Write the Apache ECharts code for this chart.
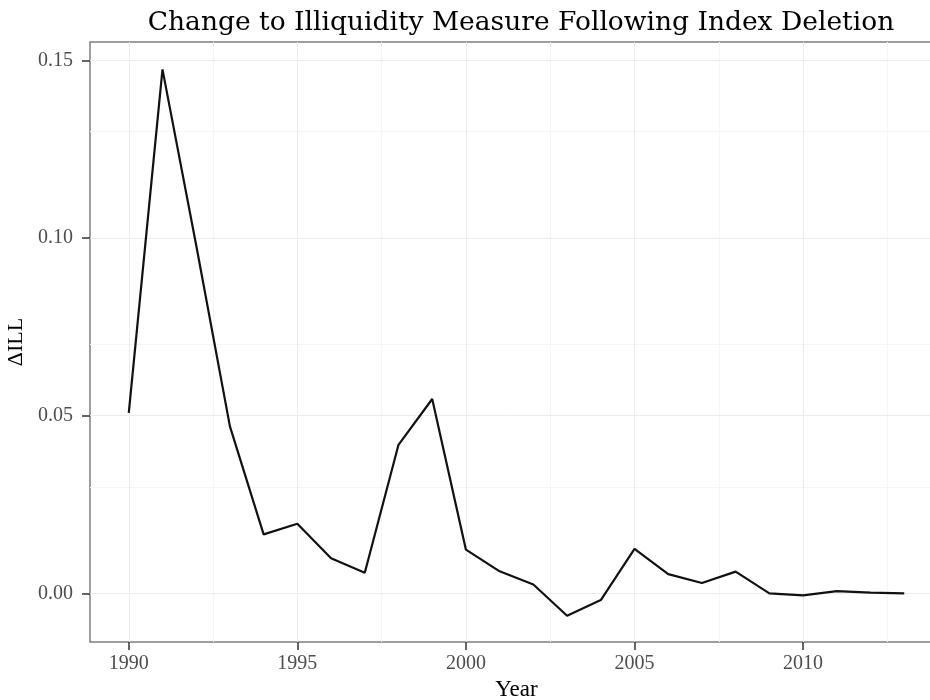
<!DOCTYPE html>
<html>
<head>
<meta charset="utf-8">
<script src="https://cdn.jsdelivr.net/npm/echarts@6/dist/echarts.min.js"></script>
<style>html,body{margin:0;padding:0;background:#fff}#c{width:930px;height:700px}</style>
</head>
<body>
<div id="c"></div>
<script>
const years = [1990,1991,1992,1993,1994,1995,1996,1997,1998,1999,2000,2001,2002,2003,2004,2005,2006,2007,2008,2009,2010,2011,2012,2013];
const dIll = [0.0508,0.1475,0.098,0.047,0.0166,0.0196,0.0099,0.0058,0.0418,0.0547,0.0123,0.0062,0.0025,-0.0063,-0.0019,0.0125,0.0054,0.0029,0.0061,0.0000,-0.0006,0.0006,0.0002,0.0000];
const xTicks = [1990,1995,2000,2005,2010];
const xMinor = [1992.5,1997.5,2002.5,2007.5,2012.5];
const yTicks = [0,0.05,0.10,0.15];
const yMinor = [0.025,0.075,0.125];
const yLabels = ['0.00','0.05','0.10','0.15'];

const FONT = 'Liberation Serif';
const TFONT = 'DejaVu Serif';
const chart = echarts.init(document.getElementById('c'), null, {renderer:'canvas'});
function vLines(vals, color){ return vals.map(v => ({xAxis: v, lineStyle:{color:color, width:1, type:'solid'}})); }
function hLines(vals, color){ return vals.map(v => ({yAxis: v, lineStyle:{color:color, width:1, type:'solid'}})); }
chart.setOption({
  animation:false,
  backgroundColor:'#ffffff',
  title:{text:'Change to Illiquidity Measure Following Index Deletion', left:516, textAlign:'center', top:5,
    textStyle:{fontFamily:TFONT, fontSize:26.5, fontWeight:'normal', color:'#000'}},
  grid:{left:90, top:42, width:853, bottom:58, outerBoundsMode:'none', containLabel:false, show:true, borderColor:'#7f7f7f', borderWidth:1.5, backgroundColor:'transparent'},
  xAxis:{type:'value', min:1988.85, max:2014.15, name:'Year', nameLocation:'middle', nameGap:35,
    nameTextStyle:{fontFamily:FONT, fontSize:23, color:'#000'},
    axisLine:{show:false, onZero:false}, splitLine:{show:false},
    axisTick:{show:true, customValues:xTicks, length:8, lineStyle:{color:'#333', width:1.5}},
    axisLabel:{customValues:xTicks, fontFamily:FONT, fontSize:20, color:'#4d4d4d', margin:12, formatter:v=>String(v)}},
  yAxis:{type:'value', min:-0.0137, max:0.1552, name:'ΔILL', nameLocation:'middle', nameGap:54,
    nameTextStyle:{fontFamily:FONT, fontSize:22, color:'#000'},
    axisLine:{show:false, onZero:false}, splitLine:{show:false},
    axisTick:{show:true, customValues:yTicks, length:8, lineStyle:{color:'#333', width:1.5}},
    axisLabel:{customValues:yTicks, fontFamily:FONT, fontSize:20, color:'#4d4d4d', margin:17, formatter:v=>{const i=yTicks.findIndex(t=>Math.abs(t-v)<1e-9);return i>=0?yLabels[i]:v.toFixed(2);}}},
  series:[
    {type:'line', data:[], z:1, silent:true,
     markLine:{silent:true, symbol:['none','none'], z:1, label:{show:false}, animation:false,
       data:[].concat(vLines(xMinor,'#f5f5f5'), hLines(yMinor,'#f5f5f5'), vLines(xTicks,'#ebebeb'), hLines(yTicks,'#ebebeb'))}},
    {type:'line', z:3, data:years.map((y,i)=>[y,dIll[i]]), showSymbol:false, symbol:'none',
     lineStyle:{color:'#111', width:2.2}}
  ]
});
</script>
</body>
</html>
